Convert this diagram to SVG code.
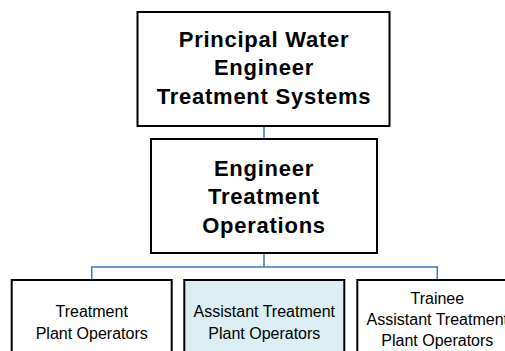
<svg xmlns="http://www.w3.org/2000/svg" width="505" height="351" viewBox="0 0 505 351">
<style>
.box{fill:#ffffff;stroke:#000000;stroke-width:2}
.hl{fill:#DAEEF3}
.big{font-family:"Liberation Sans",Arial,sans-serif;font-weight:bold;font-size:22px;letter-spacing:0.75px;text-anchor:middle;fill:#000}
.small{font-family:"Liberation Sans",Arial,sans-serif;font-size:16px;text-anchor:middle;fill:#000}
.conn{fill:none;stroke:#4472C4;stroke-width:1.5}
</style>
<rect width="505" height="351" fill="#ffffff"/>
<g id="connectors">
<path class="conn" d="M264 126 V139"/>
<path class="conn" d="M264 253 V267"/>
<path class="conn" d="M91.7 280 V267 H437.3 V280"/>
</g>
<g id="principal">
<rect class="box" x="137.5" y="12" width="252" height="114"/>
<text class="big" x="264" y="47">Principal Water</text>
<text class="big" x="264" y="75">Engineer</text>
<text class="big" x="264" y="103.5">Treatment Systems</text>
</g>
<g id="engineer">
<rect class="box" x="151" y="139" width="226" height="114"/>
<text class="big" x="264" y="176">Engineer</text>
<text class="big" x="264" y="204">Treatment</text>
<text class="big" x="264" y="232.5">Operations</text>
</g>
<g id="operators">
<rect class="box" x="11.7" y="280" width="160" height="90"/>
<text class="small" x="91.7" y="317">Treatment</text>
<text class="small" x="91.7" y="339">Plant Operators</text>
</g>
<g id="assistant">
<rect class="box hl" x="184.3" y="280" width="160" height="90"/>
<text class="small" x="264.3" y="317">Assistant Treatment</text>
<text class="small" x="264.3" y="339">Plant Operators</text>
</g>
<g id="trainee">
<rect class="box" x="357.3" y="280" width="160" height="90"/>
<text class="small" x="437.3" y="304">Trainee</text>
<text class="small" x="437.3" y="325">Assistant Treatment</text>
<text class="small" x="437.3" y="346">Plant Operators</text>
</g>
</svg>
